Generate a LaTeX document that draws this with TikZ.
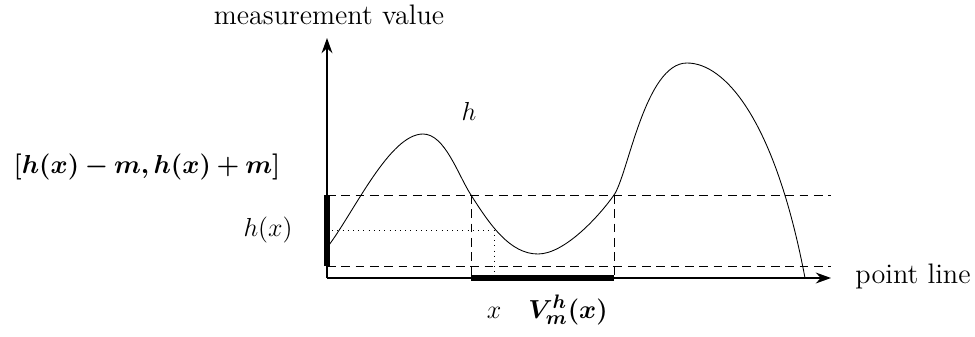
\documentclass[tikz,border=0pt]{standalone}
\usepackage{amsmath}
\usepackage{bm}
\usetikzlibrary{arrows.meta}
\begin{document}
\begin{tikzpicture}[x=0.4608pt,y=-0.4608pt,
  axisline/.style={thick,-{Stealth[length=7pt,width=5pt]}},
  guide/.style={dash pattern=on 4pt off 2.6pt},
  dotguide/.style={dotted},
  interval/.style={line width=2.4pt},
  lbl/.style={inner sep=0pt,font=\fontsize{13}{15.6}\selectfont}]
\useasboundingbox (0,0) rectangle (975,336);
\coordinate (O) at (327,278);
\coordinate (Ytip) at (327,38);
\coordinate (Xtip) at (831,278);
\coordinate (TL) at (327,195);
\coordinate (TR) at (831,195);
\coordinate (BL) at (327,266);
\coordinate (BR) at (831,266);
\coordinate (A) at (471,195);
\coordinate (Ab) at (471,278);
\coordinate (B) at (614,195);
\coordinate (Bb) at (614,278);
\coordinate (P) at (494,230);
\coordinate (Pl) at (327,230);
\coordinate (Pb) at (494,278);
\coordinate (C0) at (329,245);
\coordinate (C1) at (423,134);
\coordinate (C2) at (538,254);
\coordinate (C3) at (687,63);
\coordinate (C4) at (805,278);
% guides
\draw[guide] (TL) -- (TR);
\draw[guide] (BL) -- (BR);
\draw[guide] (A) -- (Ab);
\draw[guide] (B) -- (Bb);
\draw[dotguide] (Pl) -- (P) -- (Pb);
% axes
\draw[axisline] (O) -- (Ytip);
\draw[axisline] (O) -- (Xtip);
% intervals
\draw[interval] (Ab) -- (Bb);
\draw[interval] (TL) -- (BL);
% curve
\draw[thin] (C0) .. controls (355,210) and (390,134) .. (C1)
  .. controls (445,134) and (458,175) .. (A)
  .. controls (490,225) and (510,254) .. (C2)
  .. controls (565,254) and (600,215) .. (B)
  .. controls (628,175) and (645,63) .. (C3)
  .. controls (725,63) and (775,120) .. (C4);
% labels
\node[lbl,anchor=base] (ylab) at (329,24) {measurement value};
\node[lbl,anchor=base] (hlab) at (469,120) {$h$};
\node[lbl,anchor=base] (intlab) at (147,173) {$\bm{[h(x)-m,h(x)+m]}$};
\node[lbl,anchor=base east] (hxlab) at (293,236) {$h(x)$};
\node[lbl,anchor=base] (xlab) at (913,283) {point line};
\node[lbl,anchor=base] (xpt) at (494,318) {$x$};
\node[lbl,anchor=base] (vlab) at (568,318) {$\bm{V_m^h(x)}$};
\end{tikzpicture}
\end{document}
